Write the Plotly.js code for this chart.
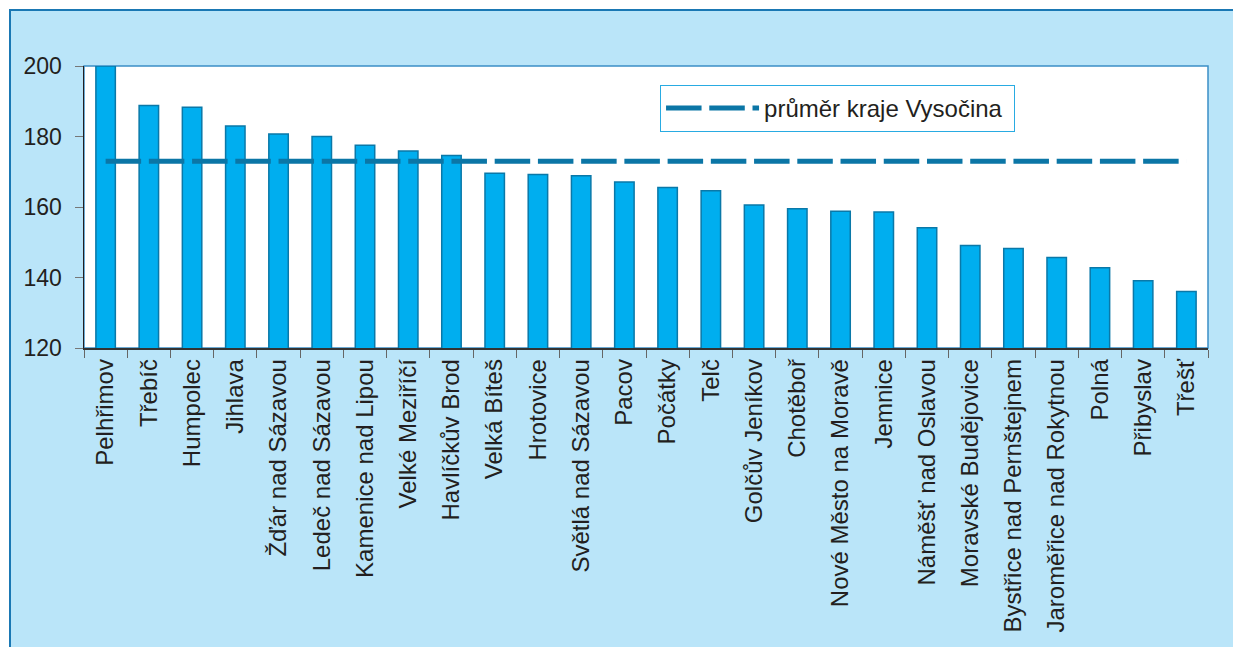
<!DOCTYPE html>
<html>
<head>
<meta charset="utf-8">
<script src="https://cdn.plot.ly/plotly-3.0.1.min.js"></script>
<style>
  html, body { margin: 0; padding: 0; background: #ffffff; }
  #frame {
    position: absolute; left: 9px; top: 9px;
    width: 1222px; height: 636px;
    border-left: 2px solid #1a78b4; border-top: 2px solid #1a78b4;
    background: #bae5f9;
  }
  #chart { width: 1222px; height: 636px; }
</style>
</head>
<body>
<div id="frame"><div id="chart"></div></div>
<script>
const towns = ["Pelhřimov", "Třebíč", "Humpolec", "Jihlava", "Žďár nad Sázavou", "Ledeč nad Sázavou",
  "Kamenice nad Lipou", "Velké Meziříčí", "Havlíčkův Brod", "Velká Bíteš", "Hrotovice",
  "Světlá nad Sázavou", "Pacov", "Počátky", "Telč", "Golčův Jeníkov", "Chotěboř",
  "Nové Město na Moravě", "Jemnice", "Náměšť nad Oslavou", "Moravské Budějovice",
  "Bystřice nad Pernštejnem", "Jaroměřice nad Rokytnou", "Polná", "Přibyslav", "Třešť"];
const values = [200.0, 188.8, 188.3, 183.0, 180.7, 180.0, 177.5, 175.9, 174.6, 169.6, 169.2,
  168.9, 167.1, 165.5, 164.6, 160.6, 159.5, 158.8, 158.6, 154.1, 149.1, 148.2, 145.7,
  142.8, 139.1, 136.0];
const regionAverage = 173.0;
const averageLabel = "průměr kraje Vysočina";
const yTicks = [120, 140, 160, 180, 200];

const textColor = "#231f20";
const fontFamily = "'Liberation Sans', Arial, Helvetica, sans-serif";

const bars = {
  type: "bar",
  x: towns,
  y: values,
  marker: { color: "#00aeef", line: { color: "#0a78a8", width: 1.5 } },
  showlegend: false,
  hoverinfo: "x+y"
};

const avgLine = {
  type: "scatter",
  mode: "lines",
  x: [towns[0], towns[towns.length - 1]],
  y: [regionAverage, regionAverage],
  name: averageLabel + " ",
  line: { color: "#0b76a6", width: 5, dash: "35.5px,7.73px" },
  showlegend: true
};

const layout = {
  width: 1222,
  height: 636,
  margin: { l: 73, r: 25, t: 55, b: 299 },
  paper_bgcolor: "rgba(0,0,0,0)",
  plot_bgcolor: "#ffffff",
  font: { family: fontFamily, size: 24, color: textColor },
  bargap: 0.55,
  showlegend: true,
  legend: {
    x: 0.5125, y: 0.933, xanchor: "left", yanchor: "top",
    bgcolor: "#ffffff", bordercolor: "#29abe2", borderwidth: 1,
    font: { family: fontFamily, size: 24, color: textColor },
    itemwidth: 93
  },
  xaxis: {
    type: "category",
    showline: true, linecolor: "#333333", linewidth: 1.5,
    ticks: "outside", tickson: "boundaries", ticklen: 8, tickcolor: "#666666", tickwidth: 1,
    tickangle: -90,
    tickfont: { family: fontFamily, size: 24, color: textColor },
    showgrid: false, zeroline: false,
    range: [-0.5, towns.length - 0.5],
    fixedrange: true
  },
  yaxis: {
    range: [120, 200],
    tickvals: yTicks,
    showline: true, linecolor: textColor, linewidth: 1.5,
    ticks: "outside", ticklen: 8, tickcolor: "#777777", tickwidth: 1,
    ticklabelstandoff: 8,
    tickfont: { family: fontFamily, size: 23, color: textColor },
    showgrid: false, zeroline: false,
    fixedrange: true
  },
  shapes: [{
    type: "rect", xref: "paper", yref: "paper", x0: 0, x1: 1, y0: 0, y1: 1,
    line: { color: "#3b8fc6", width: 1.5 }, layer: "below"
  }]
};

Plotly.newPlot("chart", [bars, avgLine], layout, { displayModeBar: false, staticPlot: true });
</script>
</body>
</html>
